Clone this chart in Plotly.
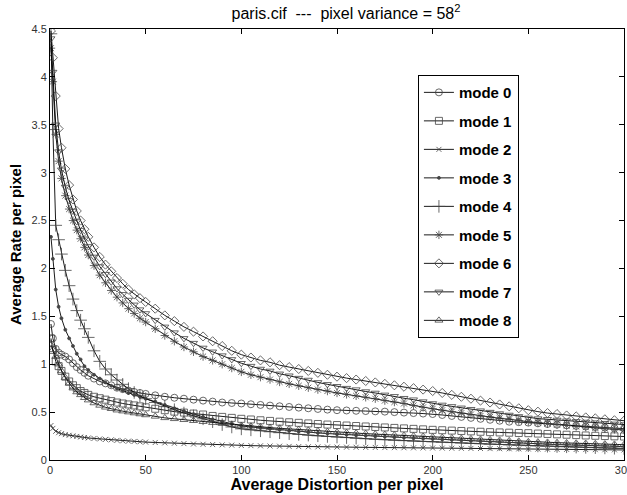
import plotly.graph_objects as go

# Shared distortion grid (x) and rate values (y)
distortion = [0.5, 1.5, 3, 4.5, 6, 8, 10, 12, 14, 16, 18, 20, 23, 26, 29, 32, 35, 38, 41, 44, 47, 50,
              55, 60, 65, 70, 75, 80, 85, 90, 95, 100,
              105, 110, 115, 120, 125, 130, 135, 140, 145, 150,
              155, 160, 165, 170, 175, 180, 185, 190, 195, 200,
              205, 210, 215, 220, 225, 230, 235, 240, 245, 250,
              255, 260, 265, 270, 275, 280, 285, 290, 295, 300]

mode0 = [1.42, 1.27, 1.16, 1.12, 1.10, 1.08, 1.05, 1.01, 0.97, 0.94, 0.91, 0.88, 0.85, 0.82, 0.80, 0.78, 0.755, 0.74, 0.725, 0.71, 0.70, 0.69,
         0.675, 0.66, 0.65, 0.64, 0.63, 0.62, 0.61, 0.60, 0.595, 0.59,
         0.582, 0.575, 0.568, 0.561, 0.554, 0.547, 0.54, 0.533, 0.526, 0.52,
         0.517, 0.514, 0.511, 0.508, 0.505, 0.50, 0.495, 0.49, 0.485, 0.48,
         0.47, 0.46, 0.45, 0.44, 0.43, 0.42, 0.41, 0.40, 0.395, 0.39,
         0.383, 0.376, 0.369, 0.362, 0.356, 0.35, 0.344, 0.338, 0.333, 0.328]

mode1 = [1.27, 1.15, 1.03, 0.98, 0.93, 0.87, 0.82, 0.78, 0.75, 0.72, 0.70, 0.68, 0.66, 0.645, 0.63, 0.615, 0.60, 0.59, 0.58, 0.57, 0.56, 0.55,
         0.535, 0.52, 0.505, 0.495, 0.485, 0.475, 0.46, 0.45, 0.44, 0.43,
         0.423, 0.415, 0.408, 0.40, 0.394, 0.388, 0.382, 0.376, 0.37, 0.365,
         0.36, 0.355, 0.35, 0.345, 0.34, 0.335, 0.33, 0.325, 0.32, 0.315,
         0.311, 0.307, 0.303, 0.299, 0.295, 0.291, 0.288, 0.285, 0.282, 0.28,
         0.276, 0.272, 0.268, 0.264, 0.26, 0.256, 0.253, 0.25, 0.247, 0.245]

mode2 = [0.36, 0.33, 0.30, 0.285, 0.275, 0.265, 0.258, 0.252, 0.246, 0.24, 0.235, 0.23, 0.225, 0.22, 0.215, 0.21, 0.205, 0.20, 0.197, 0.194, 0.19, 0.187,
         0.183, 0.179, 0.175, 0.171, 0.167, 0.164, 0.161, 0.158, 0.155, 0.152,
         0.15, 0.148, 0.146, 0.144, 0.142, 0.14, 0.138, 0.137, 0.136, 0.135,
         0.134, 0.133, 0.132, 0.131, 0.13, 0.129, 0.128, 0.127, 0.126, 0.125,
         0.124, 0.123, 0.122, 0.121, 0.12, 0.119, 0.118, 0.117, 0.116, 0.115,
         0.114, 0.113, 0.112, 0.111, 0.11, 0.109, 0.108, 0.107, 0.106, 0.105]

mode3 = [2.33, 2.10, 1.78, 1.60, 1.48, 1.36, 1.27, 1.19, 1.11, 1.05, 0.98, 0.94, 0.89, 0.85, 0.81, 0.775, 0.745, 0.725, 0.70, 0.68, 0.66, 0.64,
         0.61, 0.575, 0.54, 0.51, 0.48, 0.45, 0.425, 0.40, 0.375, 0.355,
         0.345, 0.335, 0.325, 0.315, 0.305, 0.297, 0.29, 0.283, 0.276, 0.27,
         0.264, 0.258, 0.253, 0.248, 0.243, 0.238, 0.233, 0.228, 0.224, 0.22,
         0.215, 0.21, 0.205, 0.20, 0.195, 0.19, 0.185, 0.18, 0.175, 0.17,
         0.167, 0.164, 0.161, 0.158, 0.155, 0.152, 0.149, 0.146, 0.143, 0.14]

mode4 = [4.45, 3.45, 2.45, 2.30, 2.15, 1.98, 1.82, 1.68, 1.56, 1.46, 1.37, 1.28, 1.14, 1.03, 0.95, 0.89, 0.835, 0.79, 0.745, 0.705, 0.67, 0.64,
         0.60, 0.56, 0.525, 0.49, 0.46, 0.43, 0.40, 0.37, 0.345, 0.325,
         0.315, 0.305, 0.295, 0.285, 0.275, 0.267, 0.26, 0.253, 0.246, 0.24,
         0.234, 0.228, 0.222, 0.217, 0.212, 0.207, 0.202, 0.197, 0.193, 0.19,
         0.186, 0.182, 0.178, 0.174, 0.17, 0.166, 0.162, 0.158, 0.154, 0.15,
         0.147, 0.144, 0.141, 0.138, 0.135, 0.132, 0.129, 0.126, 0.123, 0.12]

mode5 = [4.30, 3.95, 3.40, 3.12, 2.94, 2.76, 2.62, 2.50, 2.40, 2.31, 2.22, 2.14, 2.03, 1.93, 1.85, 1.77, 1.70, 1.64, 1.58, 1.53, 1.48, 1.44,
         1.37, 1.30, 1.24, 1.18, 1.13, 1.08, 1.04, 1.00, 0.96, 0.92,
         0.89, 0.865, 0.84, 0.815, 0.795, 0.775, 0.755, 0.735, 0.72, 0.70,
         0.685, 0.67, 0.655, 0.64, 0.62, 0.605, 0.59, 0.57, 0.55, 0.535,
         0.52, 0.505, 0.49, 0.475, 0.46, 0.45, 0.435, 0.425, 0.41, 0.40,
         0.39, 0.38, 0.37, 0.36, 0.35, 0.343, 0.335, 0.327, 0.32, 0.313]

mode6 = [4.48, 4.20, 3.80, 3.46, 3.26, 3.04, 2.87, 2.72, 2.60, 2.50, 2.41, 2.33, 2.22, 2.12, 2.04, 1.97, 1.90, 1.84, 1.78, 1.73, 1.69, 1.65,
         1.58, 1.51, 1.45, 1.39, 1.34, 1.29, 1.24, 1.19, 1.14, 1.10,
         1.07, 1.04, 1.02, 0.99, 0.97, 0.95, 0.93, 0.91, 0.89, 0.87,
         0.855, 0.84, 0.825, 0.81, 0.795, 0.78, 0.765, 0.75, 0.735, 0.72,
         0.70, 0.68, 0.66, 0.64, 0.62, 0.60, 0.58, 0.56, 0.54, 0.52,
         0.505, 0.49, 0.48, 0.465, 0.455, 0.445, 0.435, 0.425, 0.415, 0.41]

mode7 = [4.40, 4.05, 3.50, 3.22, 3.03, 2.85, 2.71, 2.60, 2.49, 2.40, 2.31, 2.23, 2.12, 2.02, 1.94, 1.86, 1.79, 1.73, 1.67, 1.62, 1.57, 1.53,
         1.46, 1.39, 1.33, 1.27, 1.22, 1.17, 1.13, 1.09, 1.05, 1.01,
         0.98, 0.95, 0.93, 0.90, 0.88, 0.855, 0.835, 0.81, 0.79, 0.77,
         0.75, 0.735, 0.715, 0.70, 0.68, 0.665, 0.645, 0.63, 0.61, 0.59,
         0.575, 0.56, 0.545, 0.53, 0.515, 0.50, 0.485, 0.47, 0.455, 0.44,
         0.432, 0.425, 0.418, 0.41, 0.403, 0.397, 0.39, 0.384, 0.377, 0.37]

mode8 = [1.20, 1.15, 1.08, 1.00, 0.93, 0.86, 0.80, 0.75, 0.71, 0.68, 0.65, 0.625, 0.595, 0.57, 0.55, 0.535, 0.52, 0.51, 0.50, 0.49, 0.48, 0.47,
         0.455, 0.44, 0.43, 0.42, 0.41, 0.40, 0.39, 0.38, 0.37, 0.36,
         0.352, 0.345, 0.338, 0.331, 0.324, 0.317, 0.31, 0.303, 0.296, 0.29,
         0.285, 0.28, 0.275, 0.27, 0.265, 0.26, 0.255, 0.25, 0.245, 0.24,
         0.235, 0.23, 0.225, 0.22, 0.215, 0.21, 0.205, 0.20, 0.195, 0.19,
         0.187, 0.184, 0.181, 0.178, 0.175, 0.172, 0.169, 0.166, 0.163, 0.16]

names = ["mode 0", "mode 1", "mode 2", "mode 3", "mode 4", "mode 5", "mode 6", "mode 7", "mode 8"]
series = [mode0, mode1, mode2, mode3, mode4, mode5, mode6, mode7, mode8]
symbols = ["circle-open", "square-open", "x-thin-open", "circle", "cross-thin-open",
           "asterisk-open", "diamond-open", "triangle-down-open", "triangle-up-open"]
sizes = [7, 7, 5, 3, 9, 7, 7, 7, 7]

fig = go.Figure()
for i, (nm, ys) in enumerate(zip(names, series)):
    fig.add_trace(go.Scatter(
        x=distortion, y=ys, name=nm, mode="lines+markers",
        legendgroup=nm,
        line=dict(color="black", width=0.9),
        marker=dict(symbol=symbols[i], size=sizes[i], color="#444444",
                    line=dict(color="#444444", width=0.8)),
    ))

font_family = "Liberation Sans, Arial, sans-serif"
fig.update_layout(
    width=627, height=495,
    margin=dict(l=50, r=3, t=29, b=35),
    paper_bgcolor="white", plot_bgcolor="white",
    font=dict(family=font_family, color="black"),
    title=dict(text="paris.cif &nbsp;--- &nbsp;pixel variance = 58<sup>2</sup>",
               x=346 / 627, xanchor="center", y=1 - 13 / 495, yanchor="middle",
               font=dict(size=16, family=font_family, color="black")),
    showlegend=True,
    legend=dict(x=0.641, y=0.893, xanchor="left", yanchor="top",
                bordercolor="black", borderwidth=1, bgcolor="white",
                font=dict(size=15, family=font_family, color="black", weight="bold"),
                tracegroupgap=6, traceorder="grouped", itemwidth=30),
)
fig.update_xaxes(range=[0, 300], tickvals=[0, 50, 100, 150, 200, 250, 300],
                 ticks="inside", ticklen=5, tickcolor="black", mirror="ticks",
                 showline=True, linecolor="black", linewidth=1, showgrid=False, zeroline=False,
                 tickfont=dict(size=11, color="#333333"), automargin=False,
                 ticklabeloverflow="allow",
                 title=dict(text="Average Distortion per pixel",
                            font=dict(size=16, weight="bold"), standoff=2))
fig.update_yaxes(range=[0, 4.5], tickvals=[0, 0.5, 1, 1.5, 2, 2.5, 3, 3.5, 4, 4.5],
                 ticktext=["0", "0.5", "1", "1.5", "2", "2.5", "3", "3.5", "4", "4.5"],
                 ticks="inside", ticklen=5, tickcolor="black", mirror="ticks",
                 showline=True, linecolor="black", linewidth=1, showgrid=False, zeroline=False,
                 tickfont=dict(size=11, color="#333333"), automargin=False,
                 title=dict(text="Average Rate per pixel",
                            font=dict(size=15, weight="bold"), standoff=6))

fig.write_html("out.html", config={"displayModeBar": False},
               post_script="document.body.style.margin='0';document.body.style.overflow='hidden';")
